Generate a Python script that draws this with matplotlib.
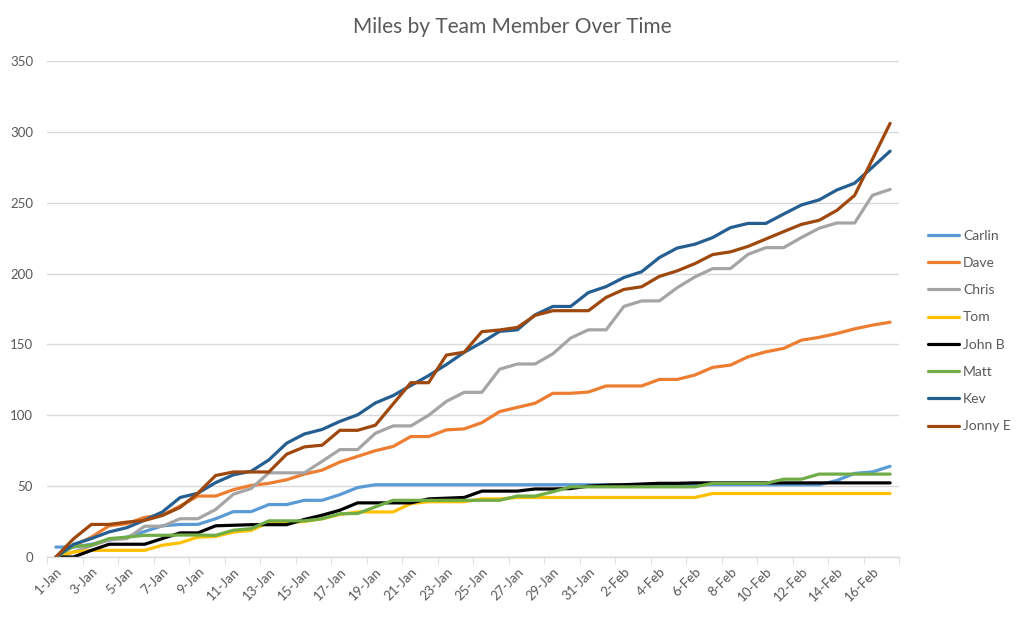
import numpy as np
import matplotlib
matplotlib.use("Agg")
import matplotlib.pyplot as plt
import matplotlib.ticker as ticker

plt.rcParams['font.family'] = ['Lato', 'DejaVu Sans']

# dates 1-Jan .. 17-Feb
dates = [f"{d}-Jan" for d in range(1, 32)] + [f"{d}-Feb" for d in range(1, 18)]

carlin = [7, 7, 9, 12, 14, 18, 22, 23, 23, 27, 32, 32, 37, 37, 40, 40, 44, 49, 51] \
    + [51] * 25 + [54, 59, 60, 64]
dave = [0, 8, 14, 22, 23.5, 28, 29.5, 36, 43, 43, 47.5, 50.5, 52, 54.5, 58.5, 61.3,
        67, 71, 75, 78, 85, 85, 89.7, 90.4, 94.8, 102.6, 105.6, 108.5, 115.5, 115.5,
        116.4, 120.7, 120.7, 120.7, 125.3, 125.3, 128.4, 133.8, 135.4, 141.3, 144.8,
        147.2, 153, 155, 157.7, 161, 163.6, 165.7]
chris = [0, 3.5, 8, 12, 13, 21.7, 21.7, 27, 27, 33.5, 44.3, 48.3, 59.4, 59.4, 59.4,
         67.5, 75.8, 75.8, 87.3, 92.5, 92.5, 100, 109.8, 116.2, 116.2, 132.5, 136.2,
         136.2, 143.4, 154.5, 160.3, 160.3, 176.8, 180.7, 180.7, 190, 197.6, 203.5,
         203.5, 213.6, 218.3, 218.3, 225.4, 232, 235.7, 235.7, 255.2, 259.4]
tom = [0, 3.5, 4.7, 4.7, 4.7, 4.7, 8.3, 10, 14, 14.5, 17.6, 18.8, 24.5, 24.5, 25, 27,
       30, 31.8, 31.8, 31.8, 37.7, 39, 39, 39, 41, 41] + [42] * 11 + [44.8] * 11
john_b = [0, 0, 4.7, 9, 9, 9, 13, 17, 17, 22, 22.4, 22.8, 22.8, 22.8, 26.5, 29.5, 33,
          38.2, 38.2, 38.2, 38.2, 41, 41.5, 42, 46.5, 46.5, 46.5, 48, 48, 48.3, 50,
          50.7, 51, 51.5, 52, 52] + [52.3] * 12
matt = [0, 7.5, 8.3, 13, 14, 15.3, 15.3, 15.5, 15.5, 15.3, 18.9, 20, 25.5, 25.5, 25.5,
        27, 30.5, 30.7, 35.4, 40] + [40] * 6 + [43, 43, 46] + [49.5] * 8 \
    + [52] * 4 + [54.9, 54.9] + [58.5] * 5
kev = [0, 9, 13, 17.7, 20.7, 26, 31.8, 42, 45, 52.5, 58, 60.5, 68.5, 80.3, 86.8, 90,
       95.7, 100.3, 108.7, 113.9, 121, 128, 135.8, 144.4, 151.4, 159.2, 160.3, 170.9,
       176.8, 176.8, 186.6, 190.8, 197.2, 201.3, 211.3, 218, 220.7, 225.4, 232.4,
       235.4, 235.4, 242, 248.4, 252, 259, 263.8, 275, 286.4]
jonny_e = [0, 12.9, 23, 23, 24.6, 25.8, 29.3, 35, 45, 57.5, 60, 60, 60, 72.5, 77.7,
           78.9, 89.4, 89.4, 93, 108, 123, 123, 142.5, 144.5, 159, 160.2, 162, 170.5,
           173.8, 173.8, 173.8, 183.2, 188.8, 190.7, 198, 201.9, 207, 213.4, 215.3,
           219.2, 224.4, 229.6, 234.7, 237.6, 244.6, 255.2, 280.6, 306]

names = ["Carlin", "Dave", "Chris", "Tom", "John B", "Matt", "Kev", "Jonny E"]
series = [carlin, dave, chris, tom, john_b, matt, kev, jonny_e]
colors = ["#5B9BD5", "#ED7D31", "#A5A5A5", "#FFC000", "#000000", "#70AD47", "#255E91", "#9E480E"]

fig = plt.figure(figsize=(10.24, 6.19), dpi=100)
ax = fig.add_axes([47 / 1024, 1 - 557 / 619, 852 / 1024, 496 / 619])

x = np.arange(len(dates))
for name, vals, c in zip(names, series, colors):
    ax.plot(x, vals, color=c, lw=2.3, label=name, solid_joinstyle='round', solid_capstyle='round')

ax.set_xlim(-0.5, len(dates) - 0.5)
ax.set_ylim(0, 350)
ax.yaxis.set_major_locator(ticker.MultipleLocator(50))
ax.grid(axis='y', color='#D9D9D9', lw=1)
ax.set_axisbelow(True)
for s in ['top', 'right', 'left']:
    ax.spines[s].set_visible(False)
ax.spines['bottom'].set_color('#D9D9D9')
ax.spines['bottom'].set_linewidth(1)

ax.set_xticks(x[::2])
ax.set_xticklabels(dates[::2], rotation=45, ha='right', rotation_mode='anchor')
ax.set_xticks(np.arange(-0.5, len(dates), 2), minor=True)
ax.tick_params(axis='x', which='major', length=0, pad=6, labelsize=9.5, labelcolor='#595959')
ax.tick_params(axis='x', which='minor', length=5, color='#D9D9D9')
ax.tick_params(axis='y', length=0, pad=10, labelsize=9.5, labelcolor='#595959')

fig.text(0.5, 1 - 27 / 619, "Miles by Team Member Over Time", ha='center', va='center',
         fontsize=15, color='#595959')

fig.legend(loc='center left', bbox_to_anchor=(915 / 1024, 1 - 331 / 619), frameon=False,
           fontsize=10, labelcolor='#595959', handlelength=2.3, handletextpad=0.25,
           labelspacing=1.1)

fig.savefig('out.png', dpi=100)
